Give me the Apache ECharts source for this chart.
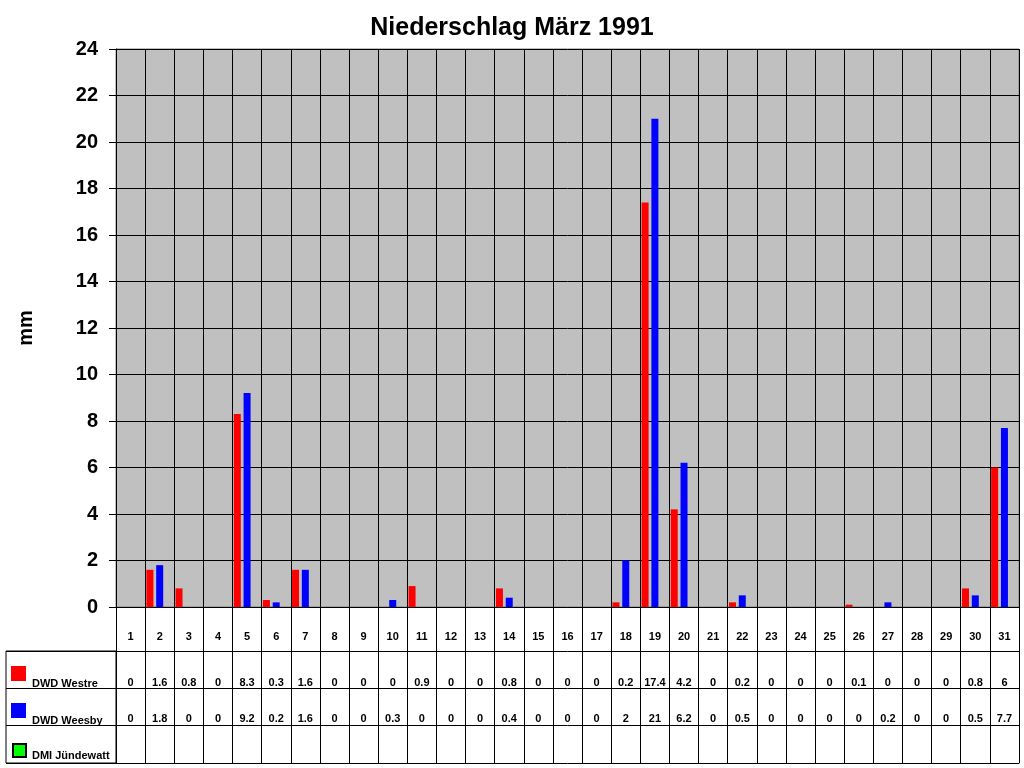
<!DOCTYPE html>
<html>
<head>
<meta charset="utf-8">
<script src="https://cdn.jsdelivr.net/npm/echarts@6/dist/echarts.min.js"></script>
<style>html,body{margin:0;padding:0;background:#fff;}#c{width:1024px;height:768px;}</style>
</head>
<body>
<div id="c"></div>
<script>
var days = ['1','2','3','4','5','6','7','8','9','10','11','12','13','14','15','16','17','18','19','20','21','22','23','24','25','26','27','28','29','30','31'];
var westre = [0,1.6,0.8,0,8.3,0.3,1.6,0,0,0,0.9,0,0,0.8,0,0,0,0.2,17.4,4.2,0,0.2,0,0,0,0.1,0,0,0,0.8,6];
var weesby = [0,1.8,0,0,9.2,0.2,1.6,0,0,0.3,0,0,0,0.4,0,0,0,2,21,6.2,0,0.5,0,0,0,0,0.2,0,0,0.5,7.7];
var juendewatt = [null,null,null,null,null,null,null,null,null,null,null,null,null,null,null,null,null,null,null,null,null,null,null,null,null,null,null,null,null,null,null];
var yTicks = {min: 0, max: 24, interval: 2};
var names = ['DWD Westre','DWD Weesby','DMI Jündewatt'];

var FONT = 'Liberation Sans, Arial, sans-serif';
function lbl(arr){ return arr.map(function(v){ return v === null ? '' : String(v); }); }

var chart = echarts.init(document.getElementById('c'));
var tableText = {fontFamily: FONT, fontSize: 11, fontWeight: 'bold', color: '#000'};
function rowAxis(data, offset, margin, showLabel){
  return {
    type: 'category', gridIndex: 0, position: 'bottom', offset: offset, data: data,
    axisLine: {show: true, lineStyle: {color: '#000', width: 1}},
    axisTick: {show: false}, splitLine: {show: false},
    axisLabel: Object.assign({show: showLabel, interval: 0, margin: margin}, tableText)
  };
}
function legendFor(name, top, left, size, pad){
  return {
    data: [name], left: left, top: top, padding: 0, itemWidth: size, itemHeight: size,
    selectedMode: false, icon: 'rect',
    formatter: function(n){ return '{t|' + n + '}'; },
    textStyle: Object.assign({
      rich: {t: Object.assign({padding: [pad, 0, 0, 1]}, tableText)}
    }, tableText)
  };
}

chart.setOption({
  animation: false,
  backgroundColor: '#fff',
  title: {
    text: 'Niederschlag März 1991', left: 'center', top: 11,
    textStyle: {fontFamily: FONT, fontSize: 25, fontWeight: 'bold', color: '#000'}
  },
  legend: [
    legendFor(names[0], 666, 11, 15, 20),
    legendFor(names[1], 703, 11, 15, 20),
    legendFor(names[2], 743, 12, 13, 10)
  ],
  grid: [
    {left: 116, right: 5, top: 49, bottom: 161, show: true, backgroundColor: '#C0C0C0', borderColor: '#808080', borderWidth: 1},
    {left: 6, width: 110, top: 651, height: 112, show: true, backgroundColor: 'transparent', borderColor: '#000', borderWidth: 1}
  ],
  xAxis: [
    {
      type: 'category', gridIndex: 0, data: days, position: 'bottom',
      axisLine: {show: true, lineStyle: {color: '#000', width: 1}},
      axisTick: {show: true, interval: 0, length: 156, lineStyle: {color: '#000', width: 1}},
      splitLine: {show: true, interval: 0, lineStyle: {color: '#000', width: 1}},
      axisLabel: Object.assign({interval: 0, margin: 24}, tableText)
    },
    rowAxis(lbl(westre), 44, 26, true),
    rowAxis(lbl(weesby), 81.3, 25, true),
    rowAxis(lbl(juendewatt), 118.7, 25, true),
    rowAxis(days, 156, 10, false),
    {type: 'value', gridIndex: 1, min: 0, max: 1, show: false}
  ],
  yAxis: [
    {
      type: 'value', gridIndex: 0, min: yTicks.min, max: yTicks.max, interval: yTicks.interval,
      name: 'mm', nameLocation: 'middle', nameGap: 80, nameRotate: 90,
      nameTextStyle: {fontFamily: FONT, fontSize: 20, fontWeight: 'bold', color: '#000'},
      axisLine: {show: true, lineStyle: {color: '#000', width: 1}},
      axisTick: {show: true, length: 7, lineStyle: {color: '#000', width: 1}},
      splitLine: {show: true, lineStyle: {color: '#000', width: 1}},
      axisLabel: {fontFamily: FONT, fontSize: 20, fontWeight: 'bold', color: '#000', margin: 18}
    },
    {
      type: 'category', gridIndex: 1, data: names, inverse: true,
      axisLine: {show: false}, axisTick: {show: false}, axisLabel: {show: false},
      splitLine: {show: true, interval: 0, lineStyle: {color: '#000', width: 1}}
    }
  ],
  series: [
    {name: names[0], type: 'bar', xAxisIndex: 0, yAxisIndex: 0, data: westre, barWidth: 7, barGap: '40%', itemStyle: {color: '#FF0000'}},
    {name: names[1], type: 'bar', xAxisIndex: 0, yAxisIndex: 0, data: weesby, barWidth: 7, barGap: '40%', itemStyle: {color: '#0000FF'}},
    {name: names[2], type: 'bar', xAxisIndex: 0, yAxisIndex: 0, data: juendewatt, barWidth: 7, barGap: '40%', itemStyle: {color: '#00FF00', borderColor: '#000', borderWidth: 1}}
  ]
});
</script>
</body>
</html>
